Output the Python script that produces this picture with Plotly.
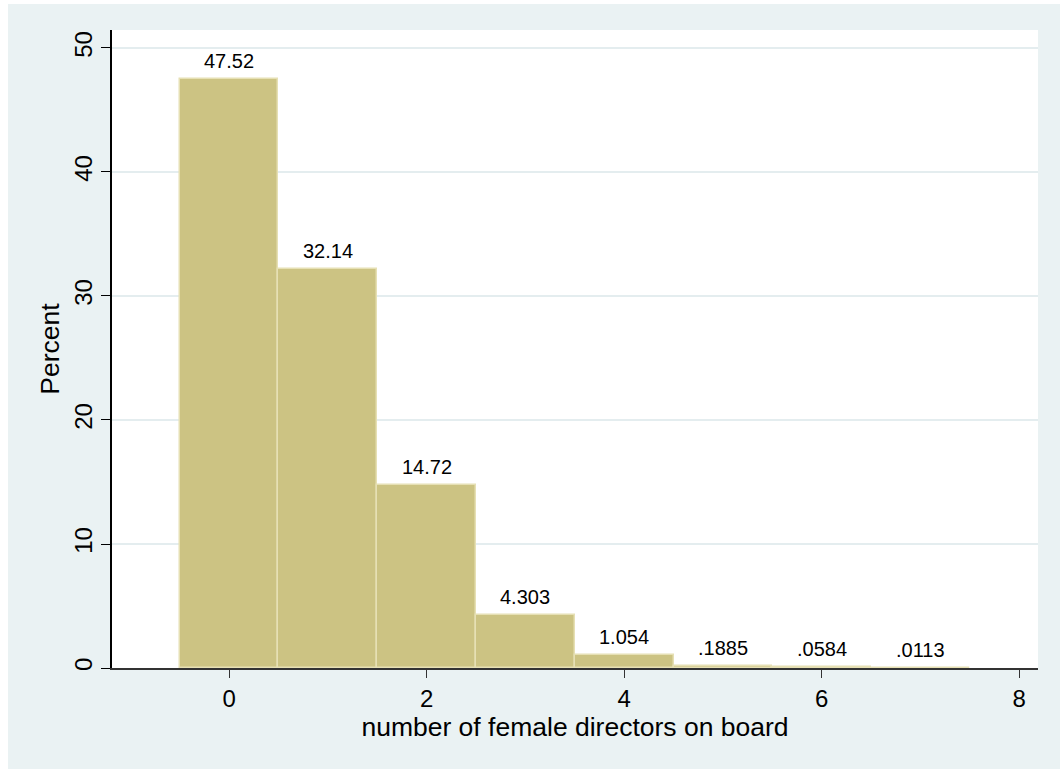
import plotly.graph_objects as go

# Data
categories = [0, 1, 2, 3, 4, 5, 6, 7]
percents = [47.52, 32.14, 14.72, 4.303, 1.054, 0.1885, 0.0584, 0.0113]
bar_labels = ["47.52", "32.14", "14.72", "4.303", "1.054", ".1885", ".0584", ".0113"]
x_ticks = [0, 2, 4, 6, 8]
y_ticks = [0, 10, 20, 30, 40, 50]

FONT = "Liberation Sans, Arial, Helvetica, sans-serif"
OUTER = "#EAF2F3"
BAR = "#CCC383"
BAR_LINE = "#E6E0B4"

fig = go.Figure()
fig.add_trace(go.Bar(
    x=categories, y=percents, width=1.0,
    marker=dict(color=BAR, line=dict(color=BAR_LINE, width=1.5)),
    hoverinfo="x+y", showlegend=False,
))

for xv, yv, lab in zip(categories, percents, bar_labels):
    fig.add_annotation(x=xv, y=yv, text=lab, showarrow=False,
                       xanchor="center", yanchor="bottom", yshift=5,
                       font=dict(family=FONT, size=20, color="black"))

# white strips at the top and left edges of the image
fig.add_shape(type="rect", xref="paper", yref="paper", x0=-0.3, x1=(8 - 112) / 926,
              y0=-0.3, y1=1.3, fillcolor="white", line=dict(width=0), layer="below")
fig.add_shape(type="rect", xref="paper", yref="paper", x0=-0.3, x1=1.3,
              y0=1 + (30 - 4) / 638, y1=1.3, fillcolor="white", line=dict(width=0), layer="below")

fig.update_layout(
    width=1060, height=769,
    margin=dict(l=112, r=22, t=30, b=101),
    paper_bgcolor=OUTER, plot_bgcolor="white",
    font=dict(family=FONT, color="black"),
    bargap=0,
)
fig.update_xaxes(
    range=[-1.185, 8.19], tickmode="array", tickvals=x_ticks,
    ticktext=[str(v) for v in x_ticks],
    ticks="outside", ticklen=8, tickwidth=1.2, tickcolor="#333",
    tickfont=dict(size=24), showgrid=False, zeroline=False,
    showline=True, linecolor="#333", linewidth=1.5,
    title=dict(text="number of female directors on board", font=dict(size=26.5), standoff=2),
)
fig.update_yaxes(
    range=[0, 51.45], tickmode="array", tickvals=y_ticks,
    ticktext=[str(v) for v in y_ticks], tickangle=-90,
    ticks="outside", ticklen=9, tickwidth=1.2, tickcolor="black",
    tickfont=dict(size=24), showgrid=True, gridcolor="#E4EDEF", gridwidth=1.5,
    zeroline=False, showline=True, linecolor="black", linewidth=1.5,
    title=dict(text="Percent", font=dict(size=26.5), standoff=2),
)

fig.write_html("out.html")
